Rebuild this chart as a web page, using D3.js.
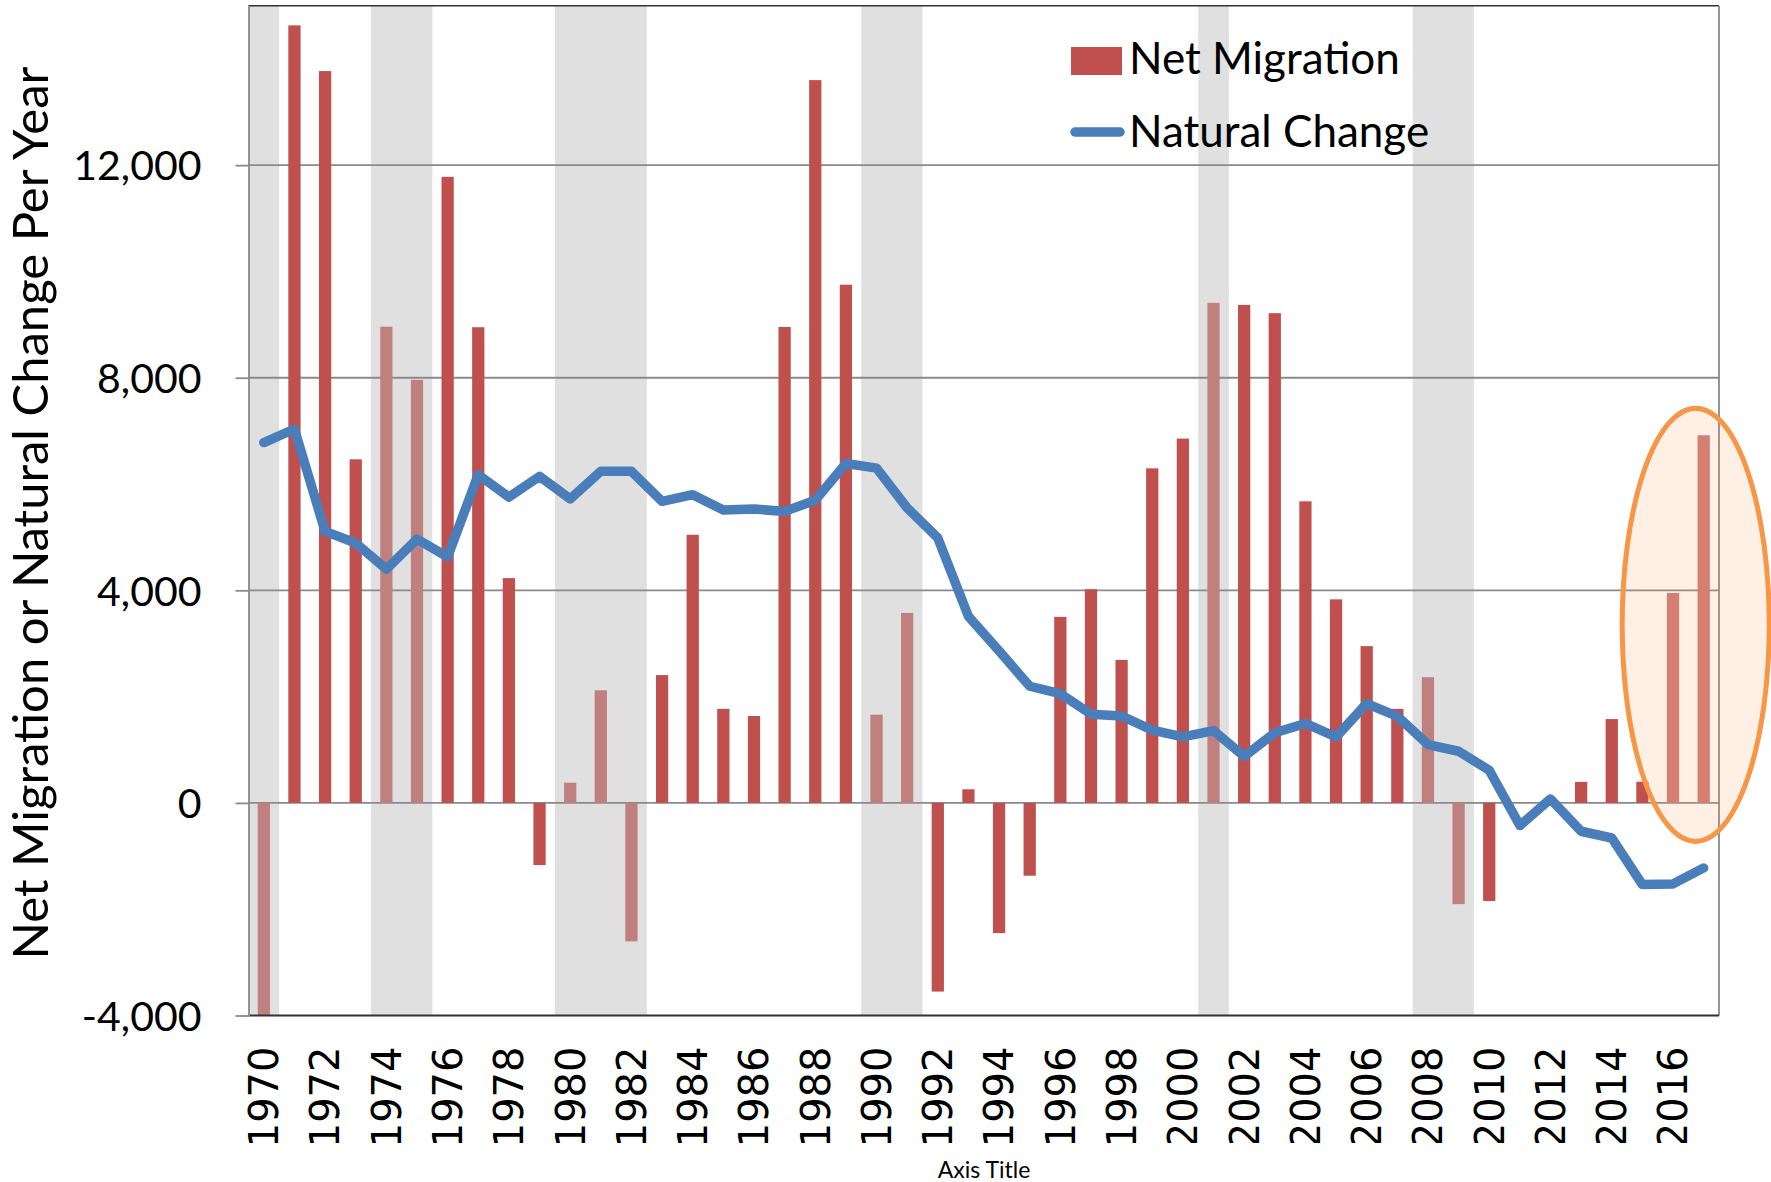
<!DOCTYPE html>
<html>
<head>
<meta charset="utf-8">
<script src="https://cdn.jsdelivr.net/npm/d3@7"></script>
<style>
  body { margin: 0; background: #fff; }
  svg { display: block; }
</style>
</head>
<body>
<svg id="chart"></svg>
<script>
const years = d3.range(1970, 2018);

const netMigration = [
  -4000, 14630, 13770, 6465, 8960, 7960, 11780, 8950, 4230, -1170,
  380, 2120, -2605, 2405, 5045, 1770, 1635, 8955, 13600, 9750,
  1660, 3575, -3550, 256, -2450, -1370, 3500, 4020, 2690, 6295,
  6855, 9410, 9370, 9215, 5675, 3830, 2950, 1770, 2365, -1905,
  -1845, 0, 0, 395, 1578, 398, 3950, 6918
];

const naturalChange = [
  6780, 7035, 5110, 4890, 4400, 4965, 4630, 6175, 5755, 6145,
  5720, 6240, 6240, 5675, 5800, 5510, 5530, 5485, 5695, 6385,
  6300, 5550, 4985, 3510, 2860, 2195, 2055, 1670, 1635, 1370,
  1242, 1360, 875, 1320, 1495, 1240, 1870, 1630, 1097, 972,
  614, -426, 75, -533, -660, -1536, -1524, -1223
];

// shaded recession years and the two highlighted recent years
const recessionYears = [1970, 1974, 1975, 1980, 1981, 1982, 1990, 1991, 2001, 2008, 2009];
const highlightYears = [2016, 2017];

const yTicks = [-4000, 0, 4000, 8000, 12000];
const xTickYears = years.filter((yr) => yr % 2 === 0);

// ellipse round the last two years, in data units
const circleNote = { year: 2017, offset: 0.24, value: 3350, rxBands: 2.4, ryValue: 4075 };

const width = 1771;
const height = 1182;
const plot = { left: 248.5, right: 1719, top: 5.7, bottom: 1015.5 };

const svg = d3.select("#chart").attr("width", width).attr("height", height);

const x = d3.scaleBand().domain(years).range([plot.left, plot.right]);
const y = d3.scaleLinear().domain([-4000, 15000]).range([plot.bottom, plot.top]);

const labelFont = "Lato, 'Open Sans', sans-serif";

// group consecutive recession years into spans so the shading has no seams
const spans = [];
recessionYears.forEach((yr) => {
  const last = spans[spans.length - 1];
  if (last && last.end === yr - 1) last.end = yr;
  else spans.push({ start: yr, end: yr });
});

svg.append("g")
  .selectAll("rect")
  .data(spans)
  .enter()
  .append("rect")
  .attr("x", (d) => x(d.start))
  .attr("y", plot.top)
  .attr("width", (d) => x(d.end) + x.bandwidth() - x(d.start))
  .attr("height", plot.bottom - plot.top)
  .attr("fill", "#e0e0e0");

// gridlines
svg.append("g")
  .selectAll("line")
  .data(yTicks.filter((d) => d > -4000))
  .enter()
  .append("line")
  .attr("x1", plot.left)
  .attr("x2", plot.right)
  .attr("y1", (d) => y(d))
  .attr("y2", (d) => y(d))
  .attr("stroke", "#8a8a8a")
  .attr("stroke-width", 1.8);

// bars
const barW = x.bandwidth() * 0.4;
const migData = years.map((yr, i) => ({ year: yr, value: netMigration[i] }));

svg.append("g")
  .selectAll("rect")
  .data(migData)
  .enter()
  .append("rect")
  .attr("x", (d) => x(d.year) + (x.bandwidth() - barW) / 2)
  .attr("y", (d) => y(Math.max(0, d.value)))
  .attr("width", barW)
  .attr("height", (d) => Math.abs(y(d.value) - y(0)))
  .attr("fill", (d) => {
    if (highlightYears.includes(d.year)) return "#ce7b7a";
    if (recessionYears.includes(d.year)) return "#c0807f";
    return "#c0504d";
  });

// natural change line
const line = d3.line()
  .x((d, i) => x(years[i]) + x.bandwidth() / 2)
  .y((d) => y(d));

svg.append("path")
  .datum(naturalChange)
  .attr("d", line)
  .attr("fill", "none")
  .attr("stroke", "#4a7ebb")
  .attr("stroke-width", 9.5)
  .attr("stroke-linejoin", "round")
  .attr("stroke-linecap", "round");

// plot frame
svg.append("line")
  .attr("x1", plot.left).attr("x2", plot.right)
  .attr("y1", plot.top).attr("y2", plot.top)
  .attr("stroke", "#333").attr("stroke-width", 1.5);
svg.append("line")
  .attr("x1", plot.right).attr("x2", plot.right)
  .attr("y1", plot.top).attr("y2", plot.bottom)
  .attr("stroke", "#8a8a8a").attr("stroke-width", 1.8);
svg.append("line")
  .attr("x1", plot.left).attr("x2", plot.right)
  .attr("y1", plot.bottom).attr("y2", plot.bottom)
  .attr("stroke", "#333").attr("stroke-width", 1.8);

// y axis
const yAxis = d3.axisLeft(y)
  .tickValues(yTicks)
  .tickSizeInner(13)
  .tickSizeOuter(0)
  .tickPadding(34)
  .tickFormat((d) => d3.format(",")(d).replace("\u2212", "-"));

const yg = svg.append("g")
  .attr("transform", `translate(${plot.left},0)`)
  .call(yAxis);
yg.select(".domain").attr("stroke", "#8a8a8a").attr("stroke-width", 1.8);
yg.selectAll(".tick line").attr("stroke", "#8a8a8a").attr("stroke-width", 1.8);
yg.selectAll(".tick text")
  .attr("font-family", labelFont)
  .attr("font-size", 41)
  .attr("fill", "#000")
  .attr("dy", "0.36em");

// x axis labels, clipped at the bottom like the original
svg.append("clipPath")
  .attr("id", "xclip")
  .append("rect")
  .attr("x", 0).attr("y", plot.bottom + 1)
  .attr("width", width).attr("height", 1143 - plot.bottom - 1);

const xAxis = d3.axisBottom(x)
  .tickValues(xTickYears)
  .tickSize(0)
  .tickPadding(0);

const xg = svg.append("g")
  .attr("clip-path", "url(#xclip)")
  .append("g")
  .attr("transform", `translate(0,${plot.bottom})`)
  .call(xAxis);
xg.select(".domain").remove();
xg.selectAll(".tick text")
  .attr("transform", "rotate(-90)")
  .attr("x", -31)
  .attr("y", 0)
  .attr("dy", "0.36em")
  .attr("text-anchor", "end")
  .attr("font-family", "'DejaVu Sans', sans-serif")
  .attr("font-size", 40)
  .attr("fill", "#000");

// axis titles
svg.append("text")
  .attr("transform", "translate(48,513) rotate(-90)")
  .attr("text-anchor", "middle")
  .attr("font-family", labelFont)
  .attr("font-size", 49)
  .text("Net Migration or Natural Change Per Year");

svg.append("text")
  .attr("x", 984)
  .attr("y", 1178)
  .attr("text-anchor", "middle")
  .attr("font-family", labelFont)
  .attr("font-size", 23)
  .text("Axis Title");

// ellipse annotation
svg.append("ellipse")
  .attr("cx", x(circleNote.year) + circleNote.offset * x.step())
  .attr("cy", y(circleNote.value))
  .attr("rx", circleNote.rxBands * x.step())
  .attr("ry", y(0) - y(circleNote.ryValue))
  .attr("fill", "rgba(247,150,70,0.145)")
  .attr("stroke", "#f79646")
  .attr("stroke-width", 5);

// legend
const legend = svg.append("g").attr("font-family", labelFont).attr("font-size", 44);
legend.append("rect")
  .attr("x", 1071).attr("y", 47).attr("width", 51).attr("height", 28)
  .attr("fill", "#c0504d");
legend.append("text").attr("x", 1129).attr("y", 74).text("Net Migration");
legend.append("line")
  .attr("x1", 1075).attr("x2", 1120).attr("y1", 132).attr("y2", 132)
  .attr("stroke", "#4a7ebb").attr("stroke-width", 9.5).attr("stroke-linecap", "round");
legend.append("text").attr("x", 1129).attr("y", 147).text("Natural Change");
</script>
</body>
</html>
